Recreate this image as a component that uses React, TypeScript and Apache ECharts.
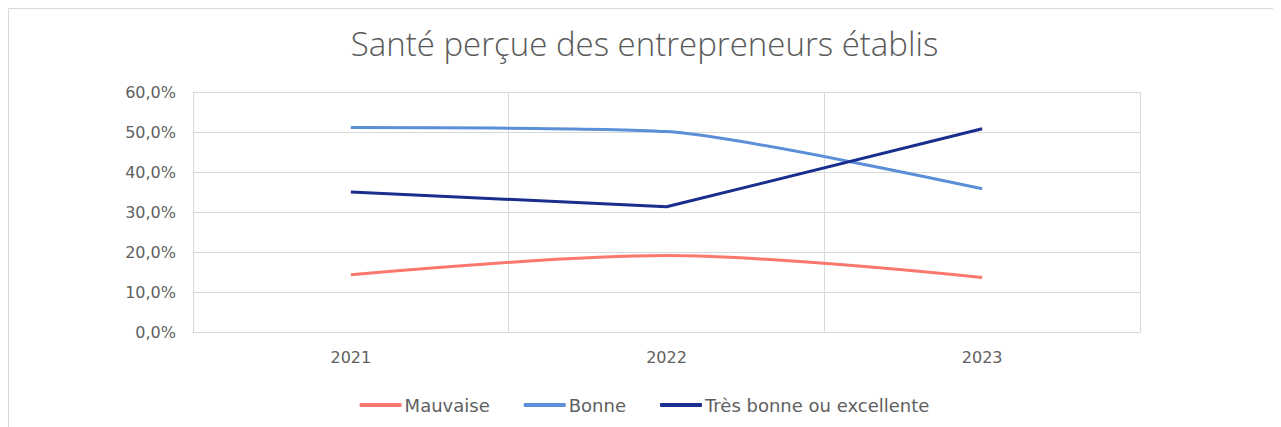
import React, { useEffect, useRef } from "react";
import * as echarts from "echarts";

const categories = ["2021", "2022", "2023"];
const mauvaise = [14.3, 19.1, 13.6];
const bonne = [51.1, 50.1, 35.8];
const tresBonne = [35.0, 31.3, 50.8];
const seriesNames = ["Mauvaise", "Bonne", "Très bonne ou excellente"];

export default function App() {
  const ref = useRef<HTMLDivElement>(null);
  useEffect(() => {
    if (!ref.current) return;
    const chart = echarts.init(ref.current, null, { renderer: "svg" });
    const font = "'DejaVu Sans', sans-serif";
    chart.setOption({
      animation: false,
      backgroundColor: "#ffffff",
      graphic: [
        {
          type: "rect",
          shape: { x: 0.5, y: 0.5, width: 3000, height: 3000 },
          style: { fill: "none", stroke: "#d9d9d9", lineWidth: 1 },
          silent: true,
        },
      ],
      title: {
        text: "Santé perçue des entrepreneurs établis",
        left: "center",
        top: 14,
        textStyle: {
          fontFamily: "'Open Sans', sans-serif",
          fontWeight: 300,
          fontSize: 33,
          color: "#595959",
        },
      },
      legend: {
        bottom: 8,
        left: "center",
        itemWidth: 42,
        itemHeight: 4,
        itemGap: 34,
        icon: "roundRect",
        textStyle: { fontFamily: font, fontSize: 18, color: "#5f5f5f", padding: [0, 0, 0, -2] },
        data: seriesNames,
      },
      grid: { left: 185, right: 141, top: 84, bottom: 95, containLabel: false },
      xAxis: {
        type: "category",
        data: categories,
        boundaryGap: true,
        axisLine: { show: true, lineStyle: { color: "#d9d9d9", width: 1 } },
        axisTick: { show: false },
        splitLine: { show: true, lineStyle: { color: "#d9d9d9", width: 1 } },
        axisLabel: { fontFamily: font, fontSize: 16, color: "#5f5f5f", margin: 17 },
      },
      yAxis: {
        type: "value",
        min: 0,
        max: 60,
        interval: 10,
        axisLine: { show: true, lineStyle: { color: "#d9d9d9", width: 1 } },
        axisTick: { show: false },
        splitLine: { show: true, lineStyle: { color: "#d9d9d9", width: 1 } },
        axisLabel: {
          fontFamily: font,
          fontSize: 16,
          color: "#5f5f5f",
          margin: 17,
          formatter: (v: number) => v.toFixed(1).replace(".", ",") + "%",
        },
      },
      series: [
        {
          name: seriesNames[0],
          type: "line",
          data: mauvaise,
          smooth: 0.34,
          showSymbol: false,
          symbol: "none",
          lineStyle: { color: "#fb786e", width: 3 },
          itemStyle: { color: "#fb786e" },
        },
        {
          name: seriesNames[1],
          type: "line",
          data: bonne,
          smooth: 0.22,
          showSymbol: false,
          symbol: "none",
          lineStyle: { color: "#5b8fd8", width: 3 },
          itemStyle: { color: "#5b8fd8" },
        },
        {
          name: seriesNames[2],
          type: "line",
          data: tresBonne,
          smooth: false,
          showSymbol: false,
          symbol: "none",
          lineStyle: { color: "#1a2e8e", width: 3 },
          itemStyle: { color: "#1a2e8e" },
        },
      ],
    });
    return () => chart.dispose();
  }, []);
  return <div ref={ref} style={{ width: 1273, height: 419 }} />;
}
